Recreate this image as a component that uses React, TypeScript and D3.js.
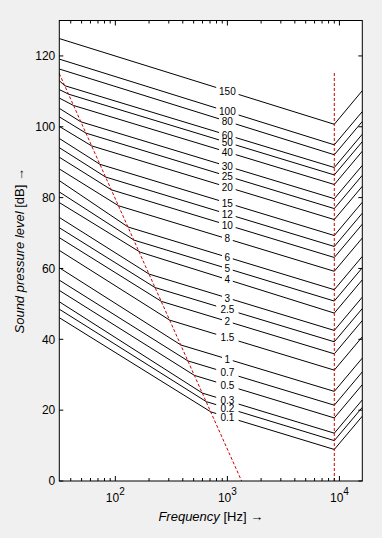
import React from "react";
import * as d3 from "d3";

const labels = ["150","100","80","60","50","40","30","25","20","15","12","10","8","6","5","4","3","2.5","2","1.5","1","0.7","0.5","0.3","0.2","0.1"];
const leftDb = [124.9,119.1,116.3,113.0,110.5,108.1,105.2,102.8,100.1,96.7,94.1,91.4,88.1,84.8,81.6,78.6,74.4,71.5,68.7,65.1,60.2,56.7,53.8,50.6,48.5,46.1];
const kneeHz = [null,null,null,35.3,38.3,42.4,49.2,54.7,61.5,72.9,82.0,92.3,106.7,130.0,146.6,166.7,200.4,226.5,257.6,306.2,384.6,444.6,509.3,599.8,648.6,712.9];
const kneeDb = [null,null,null,111.6,109.2,106.0,101.4,98.2,94.6,89.4,85.8,82.2,77.7,71.7,68.0,64.6,58.4,54.6,50.7,45.4,38.4,33.9,29.8,24.8,22.4,19.5];
const db9k = [100.7,94.9,92.1,88.5,86.4,83.7,79.7,76.9,73.8,69.3,66.2,63.1,59.2,54.0,50.8,47.4,42.5,39.3,35.9,31.3,25.3,21.4,17.8,13.5,11.4,8.9];
const db16k = [110.2,104.3,101.5,97.9,95.8,93.1,89.1,86.3,83.2,78.7,75.6,72.5,68.6,63.4,60.2,56.8,51.9,48.7,45.3,40.7,34.7,30.8,27.2,22.9,20.8,18.3];

const fLeft = 31.62;
const fBreak = 9000;
const fRight = 16000;
const labelHz = 1000;

const redDiagHz = [31.62, 1340];
const redDiagDb = [115, 0];
const redVertHz = [9000, 9000];
const redVertDb = [0, 115.5];

const yTicks = [0, 20, 40, 60, 80, 100, 120];
const xMajor = [100, 1000, 10000];
const xMajorExp = ["2", "3", "4"];
const xMinor = [40,50,60,70,80,90,200,300,400,500,600,700,800,900,2000,3000,4000,5000,6000,7000,8000,9000];

const W = 382, H = 538;
const L = 59.3, R = 362.3, T = 20.5, B = 481;
const FONT = "'Liberation Sans', Arial, sans-serif";

export default function App() {
  const x = d3.scaleLog().domain([fLeft, fRight]).range([L, R]);
  const y = d3.scaleLinear().domain([0, 130]).range([B, T]);
  const line = d3.line<[number, number]>().x(d => x(d[0])).y(d => y(d[1]));

  const series = labels.map((lab, i) => {
    const pts: [number, number][] = [[fLeft, leftDb[i]]];
    if (kneeHz[i] != null) pts.push([kneeHz[i] as number, kneeDb[i] as number]);
    pts.push([fBreak, db9k[i]]);
    pts.push([fRight, db16k[i]]);
    const lx = x(labelHz);
    let ly = 0;
    for (let k = 0; k < pts.length - 1; k++) {
      const x0 = x(pts[k][0]), x1 = x(pts[k + 1][0]);
      if (lx >= x0 && lx <= x1) {
        const t = (lx - x0) / (x1 - x0);
        ly = y(pts[k][1]) + t * (y(pts[k + 1][1]) - y(pts[k][1]));
      }
    }
    const halfW = lab.length * 2.9 + 2.5;
    return { lab, pts, lx, ly, halfW };
  });

  return (
    <svg width={W} height={H} style={{ position: "fixed", left: 0, top: 0, background: "#f0f0f0" }} fontFamily={FONT}>
      <rect x={0} y={0} width={W} height={H} fill="#f0f0f0" />
      <rect x={L} y={T} width={R - L} height={B - T} fill="#ffffff" />
      <defs>
        {series.map((s, i) => (
          <clipPath id={"cl" + i} key={i}>
            <path
              clipRule="evenodd"
              d={`M${L},${T}H${R}V${B}H${L}Z M${s.lx - s.halfW},${s.ly - 6}H${s.lx + s.halfW}V${s.ly + 6}H${s.lx - s.halfW}Z`}
            />
          </clipPath>
        ))}
      </defs>
      {series.map((s, i) => (
        <path key={i} d={line(s.pts) || ""} fill="none" stroke="#000" strokeWidth={1} clipPath={`url(#cl${i})`} />
      ))}
      <path d={line(redDiagHz.map((h, i) => [h, redDiagDb[i]] as [number, number])) || ""} fill="none" stroke="#cc0000" strokeWidth={1} strokeDasharray="3,2" />
      <path d={line(redVertHz.map((h, i) => [h, redVertDb[i]] as [number, number])) || ""} fill="none" stroke="#cc0000" strokeWidth={1} strokeDasharray="3,2" />
      {series.map((s, i) => (
        <text key={i} x={s.lx} y={s.ly} dy="0.36em" textAnchor="middle" fontSize={10} fill="#000">{s.lab}</text>
      ))}
      <rect x={L} y={T} width={R - L} height={B - T} fill="none" stroke="#000" strokeWidth={1} />
      {yTicks.map(v => (
        <g key={v}>
          <line x1={L} x2={L + 4} y1={y(v)} y2={y(v)} stroke="#000" />
          <line x1={R} x2={R - 4} y1={y(v)} y2={y(v)} stroke="#000" />
          <text x={L - 4} y={y(v)} dy="0.36em" textAnchor="end" fontSize={12} fill="#000">{v}</text>
        </g>
      ))}
      {xMinor.map(v => (
        <g key={v}>
          <line x1={x(v)} x2={x(v)} y1={B} y2={B - 3} stroke="#000" />
          <line x1={x(v)} x2={x(v)} y1={T} y2={T + 3} stroke="#000" />
        </g>
      ))}
      {xMajor.map((v, i) => (
        <g key={v}>
          <line x1={x(v)} x2={x(v)} y1={B} y2={B - 5} stroke="#000" />
          <line x1={x(v)} x2={x(v)} y1={T} y2={T + 5} stroke="#000" />
          <text x={x(v)} y={B + 21} textAnchor="middle" fontSize={12} fill="#000">
            10<tspan dy={-7} fontSize={10}>{xMajorExp[i]}</tspan>
          </text>
        </g>
      ))}
      <text x={(L + R) / 2} y={521} textAnchor="middle" fontSize={13} fill="#000">
        <tspan fontStyle="italic">Frequency</tspan> [Hz] →
      </text>
      <text transform={`translate(24,${(T + B) / 2}) rotate(-90)`} textAnchor="middle" fontSize={13} fill="#000">
        <tspan fontStyle="italic">Sound pressure level</tspan> [dB] →
      </text>
    </svg>
  );
}
